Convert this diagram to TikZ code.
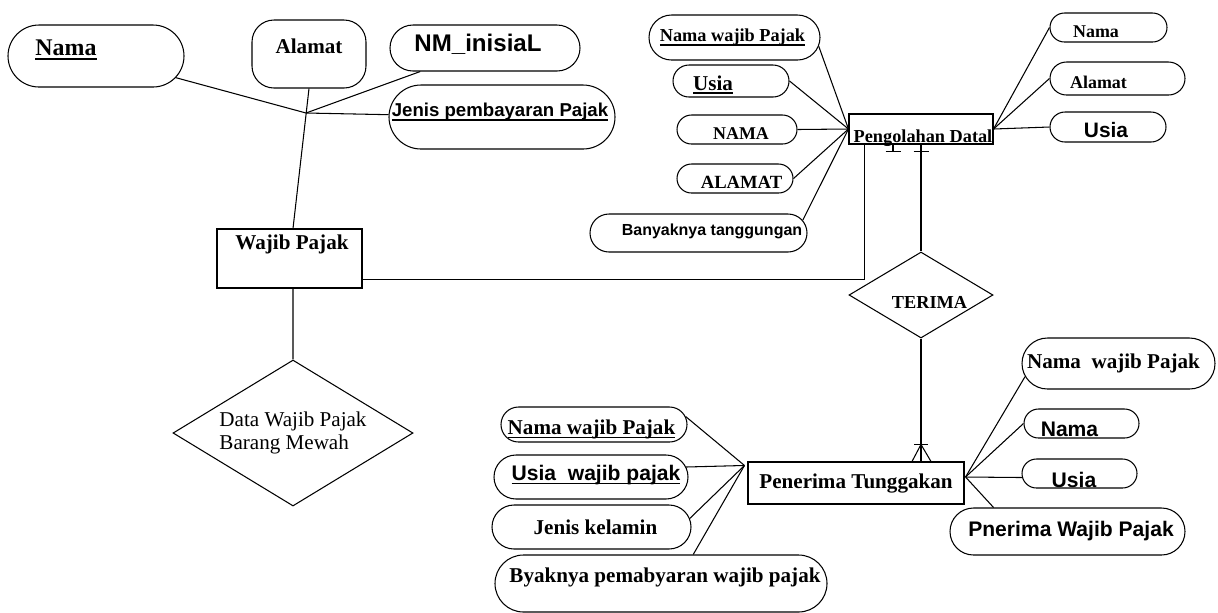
\documentclass[tikz,border=0pt]{standalone}
\usepackage{fontspec}
\setmainfont{Liberation Serif}
\setsansfont{Liberation Sans}
\usepackage{tikz}
\usetikzlibrary{positioning,calc,shapes.geometric,shapes.misc}

% thick underline close to the baseline
\newcommand{\ulin}[1]{\setbox0\hbox{#1}\rlap{\rule[-2.2pt]{\wd0}{0.9pt}}\box0}

\tikzset{
  attr/.style={draw, rounded rectangle, inner sep=0pt},
  attrbox/.style={draw, rectangle, rounded corners=4.4mm, inner sep=0pt},
  ent/.style={draw, rectangle, inner sep=0pt},
  rel/.style={draw, diamond, inner sep=0pt},
  rmb/.style={font=\fontsize{#1}{#1}\selectfont\bfseries},
  sfb/.style={font=\fontsize{#1}{#1}\selectfont\sffamily\bfseries}
}

\begin{document}
\begin{tikzpicture}[x=0.2mm, y=-0.2mm, line width=0.6pt]
\useasboundingbox (0,0) rectangle (1218,612);

% ===== WAJIB PAJAK =====
\node[attr, minimum width=35.2mm, minimum height=12.4mm,
      label={[rmb=13.6, xshift=-6mm, yshift=1.2mm]center:\ulin{Nama}}] (nama1) at (96,56) {};
\node[attrbox, minimum width=22.8mm, minimum height=13.6mm,
      label={[rmb=12, yshift=1.6mm]center:Alamat}] (alamat1) at (309,54) {};
\node[attr, minimum width=38mm, minimum height=9.2mm,
      label={[sfb=13.7, xshift=-1.4mm, yshift=0.8mm]center:NM\_inisiaL}] (nm) at (485,48) {};
\node[attr, minimum width=45.2mm, minimum height=12.8mm,
      label={[sfb=10.6, xshift=-0.4mm, yshift=1mm]center:\ulin{Jenis pembayaran Pajak}}] (jenis) at (502,117) {};
\coordinate (J) at (306,113);

\node[ent, minimum width=29mm, minimum height=11.8mm,
      label={[rmb=12, xshift=0.5mm, yshift=2.9mm]center:Wajib Pajak}] (wp) at (289.5,258.5) {};

\node[rel, aspect=1.64, minimum width=48mm, minimum height=29.2mm,
      font=\fontsize{12}{13.5}\selectfont, align=left] (dwp) at (293,433) {Data Wajib Pajak\\Barang Mewah};

% attribute lines
\draw (J) -- (nama1);
\draw (J) -- (nm);
\draw (J) -- (jenis);
\draw (alamat1.south) -- ($(wp.north)+(3.5,0)$);
\draw ($(wp.south)+(3.5,0)$) -- (dwp.north);

% ===== PENGOLAHAN DATA =====
\node[ent, minimum width=28.8mm, minimum height=6mm,
      label={[rmb=10.4, xshift=0.4mm, yshift=-1.8mm]center:Pengolahan Datal}] (pd) at (921,129) {};

\node[attr, minimum width=34.2mm, minimum height=9mm,
      label={[rmb=10.4, xshift=-0.4mm]center:\ulin{Nama wajib Pajak}}] (nwp1) at (734.5,37.5) {};
\node[attr, minimum width=23.2mm, minimum height=6.4mm,
      label={[rmb=12, xshift=-3.6mm, yshift=-0.75mm]center:\ulin{Usia}}] (usia1) at (731,81) {};
\node[attr, minimum width=24mm, minimum height=5.8mm,
      label={[rmb=10.2, xshift=0.8mm, yshift=-0.8mm]center:NAMA}] (nama2) at (737,129.5) {};
\node[attr, minimum width=23.2mm, minimum height=5.8mm,
      label={[rmb=10.6, xshift=1.3mm, yshift=-0.8mm]center:ALAMAT}] (alamat2) at (735,178.5) {};
\node[attr, minimum width=43.4mm, minimum height=7.6mm,
      label={[sfb=9.1, xshift=2.7mm, yshift=0.3mm]center:Banyaknya tanggungan}] (banyak) at (698.5,233) {};

\node[attr, minimum width=23.4mm, minimum height=5.8mm,
      label={[rmb=10.2, xshift=-2.5mm, yshift=-0.9mm]center:Nama}] (nama3) at (1108.5,27.5) {};
\node[attr, minimum width=27mm, minimum height=6.6mm,
      label={[rmb=10.2, xshift=-3.8mm, yshift=-0.8mm]center:Alamat}] (alamat3) at (1117.5,78.5) {};
\node[attr, minimum width=23.2mm, minimum height=6mm,
      label={[sfb=11.9, xshift=-0.4mm, yshift=-0.7mm]center:Usia}] (usia3) at (1108,127) {};

\foreach \a in {nwp1.-6, usia1.east, nama2.east, alamat2.east, banyak.7}
  \draw (\a) -- (pd.west);
\foreach \a in {nama3, alamat3, usia3}
  \draw (pd.east) -- (\a.west);

% Wajib Pajak -- Pengolahan Data
\draw ($(wp.south east)+(0,-9)$) -| ($(pd.south west)+(16,0)$);
\draw ($(pd.south)+(-28,0)$) -- ++(0,7) ++(-7.5,0) -- ++(15,0);

% ===== TERIMA =====
\node[rel, aspect=1.67, minimum width=28.8mm, minimum height=17.2mm,
      label={[rmb=10.4, xshift=1.7mm, yshift=-1.4mm]center:TERIMA}] (terima) at (921,295) {};

\draw (pd.south) -- (terima.north);
\draw ($(pd.south)+(-7.5,7)$) -- ++(15,0);

% ===== PENERIMA TUNGGAKAN =====
\node[ent, minimum width=43.2mm, minimum height=8.4mm, rmb=12] (pt) at (856,483) {Penerima Tunggakan};

\coordinate (cf) at (terima.south |- pt.north);
\draw (terima.south) -- (cf);
\draw ($(cf)+(-9,0)$) -- ($(cf)+(0,-17)$) -- ($(cf)+(10,0)$);
\draw ($(cf)+(-7,-17)$) -- ($(cf)+(7,-17)$);

\node[attr, minimum width=37.2mm, minimum height=7mm,
      label={[rmb=12, xshift=-0.5mm, yshift=-1mm]center:\ulin{Nama wajib Pajak}}] (nwp2) at (594,424.5) {};
\node[attr, minimum width=38.8mm, minimum height=8.8mm,
      label={[sfb=12, xshift=1mm, yshift=0.4mm]center:\ulin{Usia\ \ wajib pajak}}] (usia2) at (591,477) {};
\node[attr, minimum width=39.8mm, minimum height=8.8mm,
      label={[rmb=12, xshift=0.8mm]center:Jenis kelamin}] (jk) at (591.5,527) {};
\node[attr, minimum width=66.4mm, minimum height=11.4mm,
      label={[rmb=12, xshift=0.8mm, yshift=1.3mm]center:Byaknya pemabyaran wajib pajak}] (byak) at (661,583.5) {};

\node[attr, minimum width=38.6mm, minimum height=10.2mm,
      label={[rmb=12, xshift=-1mm]center:Nama\ \ wajib Pajak}] (nwp3) at (1118.5,363.5) {};
\node[attr, minimum width=23mm, minimum height=5.8mm,
      label={[sfb=12, xshift=-2.4mm, yshift=-1.1mm]center:Nama}] (nama4) at (1081.5,423.5) {};
\node[attr, minimum width=23mm, minimum height=5.8mm,
      label={[sfb=12, xshift=-1.1mm, yshift=-1.3mm]center:Usia}] (usia4) at (1079.5,473.5) {};
\node[attr, minimum width=47mm, minimum height=9.4mm,
      label={[sfb=12, xshift=0.7mm]center:Pnerima Wajib Pajak}] (pnwp) at (1067.5,531.5) {};

\coordinate (ptL) at ($(pt.north west)+(-3,4)$);
\coordinate (ptR) at ($(pt.east)+(1,-6)$);
\foreach \a in {nwp2.5, usia2.6, jk.5, byak.42}
  \draw (ptL) -- (\a);
\foreach \a in {nwp3.188, nama4.west, usia4.184, pnwp.162}
  \draw (ptR) -- (\a);

\end{tikzpicture}
\end{document}
